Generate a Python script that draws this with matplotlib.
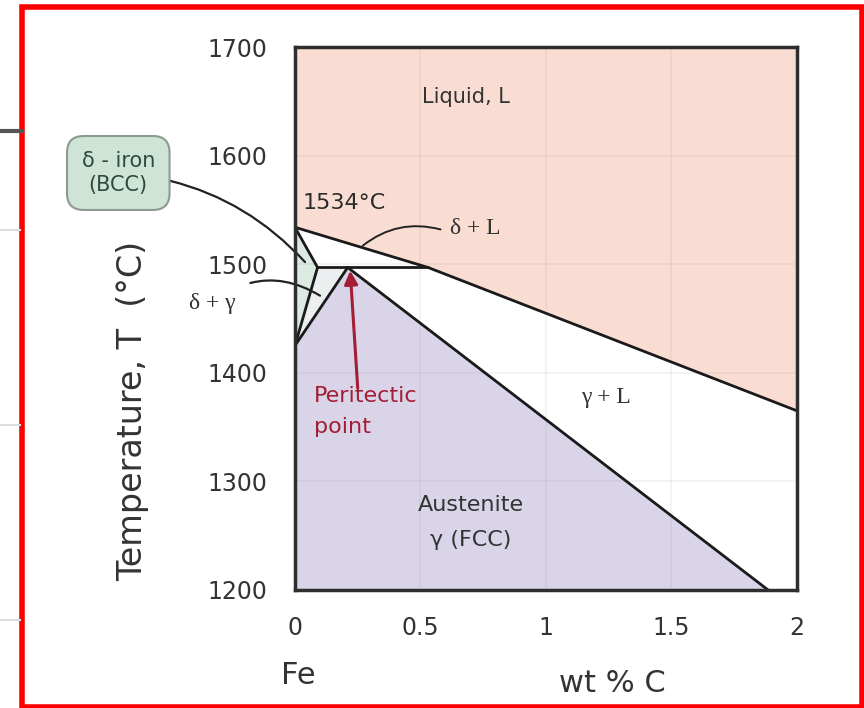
import matplotlib
matplotlib.use("Agg")
import matplotlib.pyplot as plt
from matplotlib.patches import Rectangle
from matplotlib.lines import Line2D

plt.rcParams['font.family'] = ['DejaVu Sans']

# phase boundaries (wt % C, temperature in C)
liquidus_c = [0.0, 0.53, 2.0]
liquidus_t = [1534, 1497, 1365]
delta_solidus_c = [0.0, 0.09]
delta_solidus_t = [1534, 1497]
peritectic_c = [0.09, 0.53]
peritectic_t = [1497, 1497]
delta_solvus_c = [0.0, 0.09]
delta_solvus_t = [1425, 1497]
gamma_edge_c = [0.0, 0.21]
gamma_edge_t = [1425, 1497]
gamma_solidus_c = [0.21, 1.885]
gamma_solidus_t = [1497, 1200]

x_ticks = [0, 0.5, 1, 1.5, 2]
x_tick_labels = ['0', '0.5', '1', '1.5', '2']
y_ticks = [1200, 1300, 1400, 1500, 1600, 1700]

liquid_col = '#f9ddd2'
austenite_col = '#d9d4e8'
delta_col = '#dcebe2'
dg_col = '#ecefef'
text_col = '#333333'
red_col = '#a31d35'

fig = plt.figure(figsize=(8.64, 7.08), dpi=100)
ax = fig.add_axes([0.3414, 0.1667, 0.5810, 0.7669])
ax.set_xlim(0, 2)
ax.set_ylim(1200, 1700)

# shaded regions
ax.fill_between(liquidus_c, liquidus_t, 1700, color=liquid_col, lw=0)
ax.fill([0, gamma_edge_c[0], gamma_edge_c[1], gamma_solidus_c[1]],
        [1200, gamma_edge_t[0], gamma_edge_t[1], gamma_solidus_t[1]],
        color=austenite_col, lw=0)
ax.fill([0, delta_solidus_c[1], delta_solvus_c[0]],
        [delta_solidus_t[0], delta_solidus_t[1], delta_solvus_t[0]],
        color=delta_col, lw=0)
ax.fill([delta_solvus_c[0], delta_solvus_c[1], gamma_edge_c[1]],
        [delta_solvus_t[0], delta_solvus_t[1], gamma_edge_t[1]],
        color=dg_col, lw=0)

# faint grid from the original photo
for v in x_ticks[1:-1]:
    ax.axvline(v, color='#8a7a7a', alpha=0.1, lw=1.2, zorder=1)
for v in y_ticks[1:-1]:
    ax.axhline(v, color='#8a7a7a', alpha=0.1, lw=1.2, zorder=1)

lines = [(liquidus_c, liquidus_t), (delta_solidus_c, delta_solidus_t),
         (peritectic_c, peritectic_t), (delta_solvus_c, delta_solvus_t),
         (gamma_edge_c, gamma_edge_t), (gamma_solidus_c, gamma_solidus_t)]
for c, t in lines:
    ax.plot(c, t, color='#1a1a1a', lw=2.0, zorder=3, solid_capstyle='round')

for s in ax.spines.values():
    s.set_color('#2e2e2e')
    s.set_linewidth(2.5)
    s.set_zorder(4)

ax.set_xticks(x_ticks)
ax.set_xticklabels(x_tick_labels)
ax.set_yticks(y_ticks)
ax.tick_params(length=0, labelsize=17, colors=text_col)
ax.tick_params(axis='y', pad=20)
ax.tick_params(axis='x', pad=19)

ax.set_ylabel('Temperature, T  (°C)', fontsize=24, color=text_col)
ax.yaxis.set_label_coords(-0.29, 0.33)

# labels in the diagram
ax.text(0.68, 1654, 'Liquid, L', fontsize=15, color=text_col, ha='center', va='center')
ax.text(0.03, 1556, '1534°C', fontsize=16, color='#2a2a2a', ha='left', va='center')
ax.text(0.72, 1533, 'δ + L', fontsize=17, color=text_col, ha='center', va='center',
        family='Liberation Serif')
ax.text(1.24, 1377, 'γ + L', fontsize=17, color=text_col, ha='center', va='center',
        family='Liberation Serif')
ax.text(0.7, 1262, 'Austenite\nγ (FCC)', fontsize=16, color=text_col, ha='center',
        va='center', linespacing=1.9)
ax.text(0.075, 1364, 'Peritectic\npoint', fontsize=16, color=red_col, ha='left',
        va='center', linespacing=1.7)
ax.annotate('', xy=(0.22, 1494), xytext=(0.25, 1386),
            arrowprops=dict(arrowstyle='-|>', color=red_col, lw=2.2,
                            mutation_scale=20, shrinkA=0, shrinkB=0))

ax.annotate('', xy=(0.27, 1517), xytext=(0.58, 1532),
            arrowprops=dict(arrowstyle='-', color='#222222', lw=1.4,
                            connectionstyle='arc3,rad=0.25', shrinkA=0, shrinkB=0))

ax.annotate('δ - iron\n(BCC)', xy=(0.04, 1502), xytext=(-0.704, 1584),
            fontsize=15, color='#2f4a3d', ha='center', va='center', linespacing=1.3,
            annotation_clip=False,
            bbox=dict(boxstyle='round,pad=0.7,rounding_size=0.8', fc='#cde4d6',
                      ec='#8c9a92', lw=1.5),
            arrowprops=dict(arrowstyle='-', color='#222222', lw=1.6,
                            connectionstyle='arc3,rad=-0.2', shrinkA=0, shrinkB=0))

ax.annotate('δ + γ', xy=(0.1, 1471), xytext=(-0.33, 1464),
            fontsize=17, color=text_col, ha='center', va='center',
            family='Liberation Serif', annotation_clip=False,
            arrowprops=dict(arrowstyle='-', color='#222222', lw=1.6,
                            connectionstyle='arc3,rad=-0.35', shrinkA=14, shrinkB=0))

fig.text(298 / 864, 1 - 675 / 708, 'Fe', fontsize=22, color=text_col,
         ha='center', va='center')
fig.text(612 / 864, 1 - 684 / 708, 'wt % C', fontsize=22, color=text_col,
         ha='center', va='center')

# red frame of the screenshot and the page edge behind it
fig.add_artist(Line2D([0, 22 / 864], [1 - 131 / 708] * 2, color='#555555', lw=3))
for yy in [230, 425, 620]:
    fig.add_artist(Line2D([0, 20 / 864], [1 - yy / 708] * 2, color='#dddddd', lw=1.5))
fig.add_artist(Rectangle((22 / 864, 1 / 708), 840 / 864, 700 / 708,
                         transform=fig.transFigure, fill=False, ec='#ff0000', lw=4))

fig.savefig('out.png', dpi=100)
